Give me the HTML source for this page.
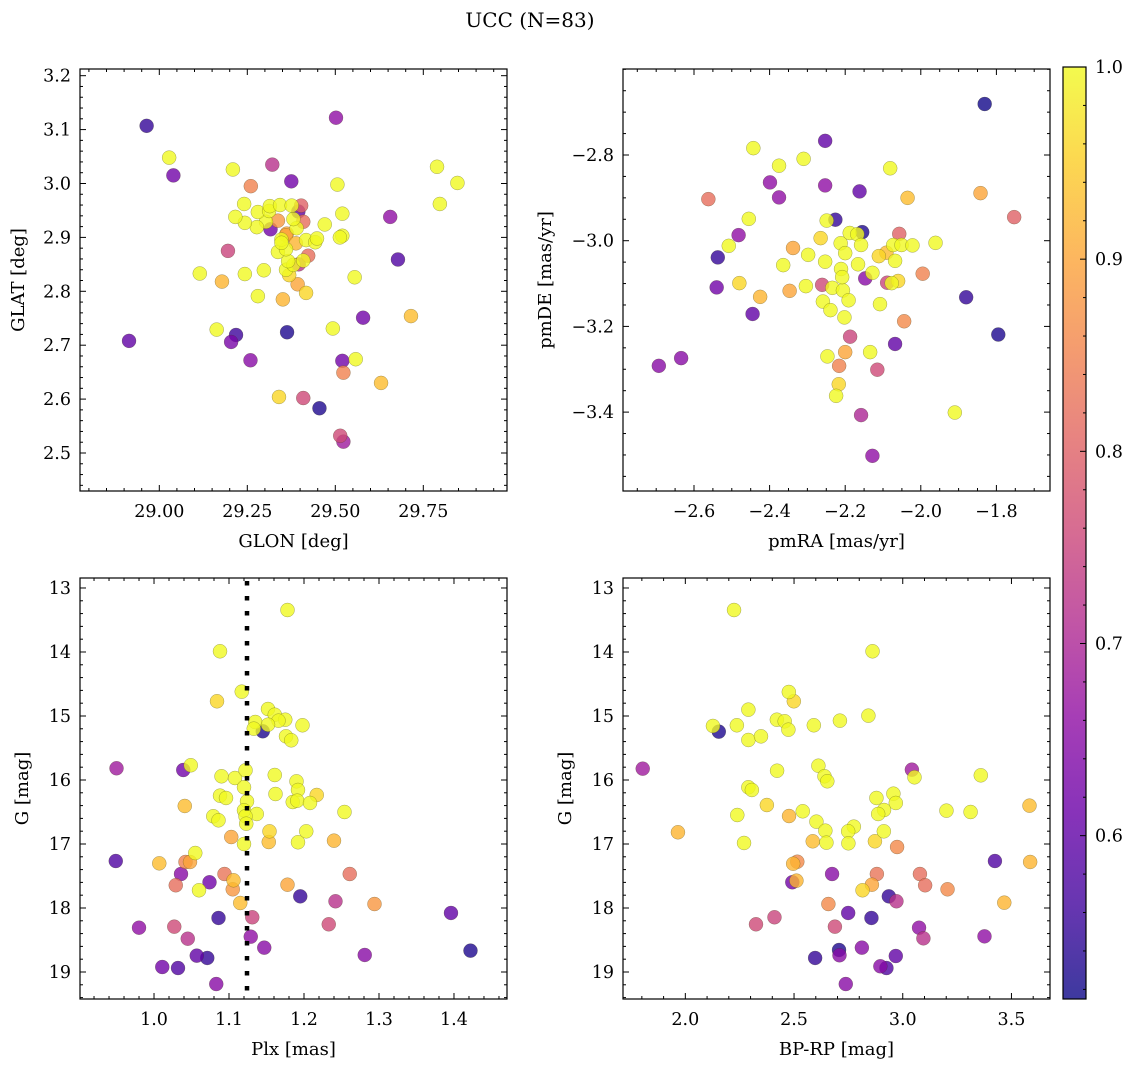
<!DOCTYPE html>
<html><head><meta charset="utf-8"><style>
html,body{margin:0;padding:0;background:#fff;}
svg{display:block;font-family:"DejaVu Serif","Liberation Serif",serif;}
</style></head><body>
<svg id="fig" width="1136" height="1067" viewBox="0 0 1136 1067" xmlns="http://www.w3.org/2000/svg">
<text x="530" y="27" font-size="20" text-anchor="middle">UCC (N=83)</text>
</svg>
<script>
// ---- Panel 1: GLON vs GLAT ----
const glon1=[28.964,29.028,29.040,28.914,29.209,29.321,29.260,29.375,29.502,29.506,29.789,29.847,29.797,29.656,29.520,29.520,29.513,29.470,29.678,29.555,29.715,29.579,29.493,29.520,29.558,29.523,29.630,29.455,29.409,29.340,29.514,29.523,29.363,29.218,29.204,29.163,29.259,29.195,29.115,29.178,29.243,29.297,29.280,29.351,29.417,29.393,29.369,29.360,29.381,29.409,29.423,29.366,29.337,29.360,29.388,29.347,29.417,29.443,29.448,29.362,29.337,29.390,29.381,29.409,29.316,29.303,29.277,29.243,29.216,29.241,29.280,29.312,29.314,29.343,29.376,29.403,29.395,29.360,29.347,29.396];
const glat1=[3.107,3.048,3.015,2.708,3.026,3.035,2.995,3.004,3.122,2.998,3.031,3.001,2.962,2.938,2.944,2.903,2.900,2.924,2.859,2.826,2.754,2.751,2.731,2.671,2.674,2.649,2.630,2.583,2.602,2.604,2.532,2.521,2.724,2.719,2.706,2.729,2.672,2.875,2.833,2.818,2.832,2.839,2.791,2.785,2.797,2.813,2.830,2.840,2.849,2.857,2.866,2.856,2.873,2.878,2.889,2.896,2.895,2.891,2.898,2.907,2.931,2.917,2.934,2.929,2.915,2.929,2.919,2.927,2.938,2.962,2.947,2.949,2.958,2.960,2.959,2.959,2.948,2.904,2.890,2.850];
const prob1=[.55,1,.62,.60,1,.72,.85,.62,.66,1,1,1,1,.66,1,1,1,1,.58,1,.93,.62,1,.62,1,.85,.93,.53,.76,.96,.76,.68,.53,.56,.63,1,.65,.75,1,.92,1,1,1,.92,.96,.90,.96,1,1,1,.82,1,1,1,.92,1,1,1,1,.90,.88,1,1,.82,.62,1,1,1,1,1,1,1,1,1,1,.80,.60,.90,1,.72];
// ---- Panel 2: pmRA vs pmDE ----
const pmra2=[-1.831,-2.253,-2.443,-2.310,-2.375,-2.399,-2.375,-2.253,-2.162,-2.081,-2.035,-1.842,-1.753,-2.562,-2.455,-2.482,-2.508,-2.537,-2.540,-2.480,-2.425,-2.445,-2.693,-2.634,-2.338,-2.364,-2.298,-2.347,-2.304,-2.265,-2.249,-2.226,-2.253,-2.261,-2.259,-2.239,-2.202,-2.234,-2.206,-2.191,-2.211,-2.208,-2.212,-2.200,-2.188,-2.168,-2.155,-2.158,-2.166,-2.147,-2.128,-2.111,-2.091,-2.068,-2.057,-2.073,-2.051,-2.022,-1.961,-1.995,-2.089,-2.060,-2.077,-2.108,-2.044,-1.880,-1.795,-2.068,-2.187,-2.134,-2.200,-2.247,-2.216,-2.115,-2.217,-2.224,-2.158,-2.128,-1.910];
const pmde2=[-2.681,-2.767,-2.784,-2.809,-2.825,-2.864,-2.899,-2.871,-2.885,-2.831,-2.900,-2.889,-2.945,-2.903,-2.949,-2.987,-3.012,-3.039,-3.109,-3.099,-3.131,-3.171,-3.292,-3.274,-3.017,-3.057,-3.033,-3.117,-3.106,-2.994,-2.953,-2.951,-3.049,-3.103,-3.142,-3.162,-3.179,-3.110,-3.116,-3.139,-3.066,-3.085,-3.006,-3.029,-2.982,-2.985,-2.980,-3.010,-3.055,-3.088,-3.075,-3.036,-3.028,-3.047,-2.984,-3.010,-3.010,-3.011,-3.005,-3.077,-3.098,-3.094,-3.099,-3.148,-3.188,-3.132,-3.219,-3.241,-3.224,-3.260,-3.260,-3.270,-3.292,-3.301,-3.335,-3.362,-3.407,-3.502,-3.401];
const prob2=[.52,.60,1,1,1,.66,.66,.66,.60,1,.93,.90,.80,.82,1,.66,1,.55,.62,.96,.92,.60,.65,.65,.90,1,1,.90,1,.96,1,.55,1,.76,1,1,1,1,1,1,1,1,1,1,1,1,.53,1,1,.65,1,.96,.93,1,.80,1,1,1,1,.85,.75,.96,1,1,.86,.55,.53,.60,.75,1,.90,1,.85,.76,.96,1,.70,.66,1];
// ---- Panel 3: Plx vs G ----
const plx3=[1.178,1.088,1.117,1.084,1.152,1.161,1.175,1.166,1.198,1.135,1.133,1.152,1.145,1.176,1.183,0.950,1.039,1.049,1.090,1.108,1.122,1.120,1.161,1.190,1.192,1.088,1.096,1.124,1.162,1.185,1.191,1.208,1.217,1.041,1.079,1.086,1.120,1.137,1.122,1.123,1.254,1.103,1.154,1.153,1.120,1.203,1.192,1.240,0.949,1.007,1.042,1.048,1.055,1.036,1.029,1.060,1.074,1.094,1.106,1.105,1.115,1.178,1.195,1.261,1.242,1.294,1.396,1.131,1.086,0.980,1.027,1.045,1.129,1.233,1.147,1.281,1.422,1.057,1.071,1.011,1.032,1.083];
const g3=[13.344,13.989,14.620,14.770,14.891,14.980,15.058,15.073,15.145,15.094,15.198,15.136,15.239,15.318,15.380,15.817,15.844,15.770,15.942,15.969,15.849,16.114,15.922,16.021,16.156,16.245,16.281,16.333,16.219,16.344,16.323,16.359,16.234,16.406,16.567,16.630,16.474,16.531,16.567,16.683,16.500,16.891,16.802,16.969,17.000,16.802,16.973,16.948,17.266,17.302,17.281,17.281,17.141,17.469,17.645,17.723,17.598,17.469,17.567,17.708,17.922,17.636,17.818,17.469,17.895,17.938,18.078,18.145,18.156,18.308,18.292,18.480,18.448,18.255,18.620,18.734,18.667,18.745,18.781,18.922,18.938,19.188];
const prob3=[1,1,1,.96,1,1,1,1,1,1,1,1,.53,1,1,.68,.62,1,1,1,1,1,1,1,1,1,1,1,1,1,1,1,.96,.93,1,1,1,1,1,1,1,.90,.96,.93,1,1,1,.92,.58,.93,.85,.90,1,.65,.82,1,.62,.83,.93,.88,.93,.90,.55,.82,.72,.88,.60,.75,.55,.66,.76,.72,.66,.76,.65,.65,.53,.60,.55,.62,.58,.65];
const plxLine=1.124;
// ---- Panel 4: BP-RP vs G ----
const bprp4=[2.224,2.861,2.476,2.499,2.290,2.842,2.421,2.457,2.711,2.237,2.591,2.127,2.154,2.474,2.290,2.348,1.804,3.042,3.054,2.422,2.612,2.640,2.653,3.359,2.290,2.306,2.375,3.583,2.540,2.477,2.603,2.644,2.775,2.879,2.957,2.968,2.914,2.887,3.201,3.312,2.239,1.966,2.270,2.586,2.649,2.749,2.750,2.872,2.913,2.974,3.424,3.586,2.496,2.515,2.675,2.881,3.079,3.103,3.206,3.467,2.492,2.511,2.815,2.858,2.658,2.936,2.971,2.749,2.856,2.325,2.410,2.688,3.075,3.095,3.376,2.597,2.707,2.709,2.812,2.968,2.897,2.925,2.738];
const g4=[13.344,13.989,14.625,14.770,14.901,14.995,15.058,15.083,15.073,15.145,15.145,15.156,15.245,15.214,15.375,15.318,15.823,15.839,15.958,15.855,15.777,15.942,16.020,15.927,16.114,16.156,16.391,16.401,16.489,16.563,16.651,16.792,16.729,16.281,16.214,16.359,16.469,16.531,16.479,16.500,16.547,16.817,16.984,16.958,16.979,16.802,16.989,16.958,16.802,17.047,17.266,17.281,17.308,17.277,17.469,17.469,17.469,17.645,17.708,17.917,17.598,17.573,17.723,17.636,17.938,17.818,17.895,18.078,18.156,18.255,18.145,18.292,18.308,18.474,18.443,18.781,18.656,18.739,18.620,18.750,18.911,18.938,19.188];
const prob4=[1,1,1,.96,1,1,1,1,1,1,1,1,.53,1,1,1,.68,.68,1,1,1,1,1,1,1,1,.96,.93,1,.92,1,1,1,1,1,1,1,1,1,1,1,.92,1,.93,1,1,1,.96,1,.86,.58,.92,.92,.86,.65,.83,.82,.82,.86,.92,.62,.92,.96,.90,.86,.55,.72,.60,.55,.76,.75,.76,.66,.72,.66,.55,.53,.65,.65,.60,.65,.58,.65];
// ---- Colorbar ----
const cbMin=0.515, cbMax=1.0;
const cbTicks=[0.6,0.7,0.8,0.9,1.0];

const NS='http://www.w3.org/2000/svg';
const svg=document.getElementById('fig');
const plasma=[[13,8,135],[65,4,157],[106,0,168],[143,13,164],[177,42,144],[204,71,120],[225,100,98],[242,132,75],[252,166,54],[252,206,37],[240,249,33]];
function cmap(p){
  let t=(p-cbMin)/(cbMax-cbMin); t=Math.max(0,Math.min(1,t));
  const f=t*10, i=Math.min(9,Math.floor(f)), r=f-i;
  const a=plasma[i], b=plasma[i+1];
  return 'rgb('+[0,1,2].map(k=>Math.round(a[k]+(b[k]-a[k])*r)).join(',')+')';
}
function el(tag,attrs,parent){const e=document.createElementNS(NS,tag);for(const k in attrs)e.setAttribute(k,attrs[k]);(parent||svg).appendChild(e);return e;}
function fmt(v,d){const s=Math.abs(v).toFixed(d);return (v<-1e-9?'\u2212':'')+s;}

function panel(name,box,xr,yr,yInv,xs,ys,ps,xMaj,xDec,xMinStep,yMaj,yDec,yMinStep,xLabel,yLabel,xlabX,ylabX){
  const g=el('g',{});
  
  
  const sx=v=>box.l+(v-xr[0])/(xr[1]-xr[0])*(box.r-box.l);
  const sy=v=>yInv? box.t+(v-yr[0])/(yr[1]-yr[0])*(box.b-box.t) : box.b-(v-yr[0])/(yr[1]-yr[0])*(box.b-box.t);
  const clip=el('clipPath',{id:name+'-clip'},g);
  el('rect',{x:box.l,y:box.t,width:box.r-box.l,height:box.b-box.t},clip);
  const pts=el('g',{'clip-path':'url(#'+name+'-clip)'},g);
  
  
  const idx=ps.map((p,i)=>i).sort((a,b)=>ps[a]-ps[b]);
  idx.forEach(i=>{
    const c=el('circle',{cx:sx(xs[i]),cy:sy(ys[i]),r:7,fill:cmap(ps[i]),'fill-opacity':0.8,stroke:'rgba(60,60,20,0.45)','stroke-width':0.5},pts);
    
    
  });
  if(name==='plx-g-panel'){
    const ln=el('line',{x1:sx(plxLine),x2:sx(plxLine),y1:box.t,y2:box.b,stroke:'#000','stroke-width':4.5,'stroke-dasharray':'4.5,10.5','stroke-dashoffset':-3},g);
    
    
  }
  const fr=el('rect',{x:box.l,y:box.t,width:box.r-box.l,height:box.b-box.t,fill:'none',stroke:'#000','stroke-width':1.2},g);
  
  
  const tk=el('g',{stroke:'#000','stroke-width':1},g);
  
  
  const isMaj=(v,arr)=>arr.some(m=>Math.abs(m-v)<1e-6);
  const lo=Math.min(xr[0],xr[1]), hi=Math.max(xr[0],xr[1]);
  for(let v=Math.ceil(lo/xMinStep-1e-9)*xMinStep; v<=hi; v+=xMinStep){
    const L=isMaj(v,xMaj)?6:3, x=sx(v);
    el('line',{x1:x,x2:x,y1:box.b,y2:box.b-L},tk); el('line',{x1:x,x2:x,y1:box.t,y2:box.t+L},tk);
  }
  const ylo=Math.min(yr[0],yr[1]), yhi=Math.max(yr[0],yr[1]);
  for(let v=Math.ceil(ylo/yMinStep-1e-9)*yMinStep; v<=yhi; v+=yMinStep){
    const L=isMaj(v,yMaj)?6:3, y=sy(v);
    el('line',{y1:y,y2:y,x1:box.l,x2:box.l+L},tk); el('line',{y1:y,y2:y,x1:box.r,x2:box.r-L},tk);
  }
  xMaj.forEach(v=>{
    const t=el('text',{x:sx(v),y:box.b+26,'font-size':17.5,'text-anchor':'middle'},g);
    t.textContent=fmt(v,xDec);
    
    
  });
  yMaj.forEach(v=>{
    const t=el('text',{x:box.l-9,y:sy(v)+6,'font-size':17.5,'text-anchor':'end'},g);
    t.textContent=fmt(v,yDec);
    
    
  });
  const xl=el('text',{x:(box.l+box.r)/2,y:box.b+56,'font-size':18,'text-anchor':'middle'},g);
  xl.textContent=xLabel;
  
  
  const yc=(box.t+box.b)/2;
  const yl=el('text',{x:ylabX,y:yc,'font-size':18,'text-anchor':'middle',transform:'rotate(-90 '+ylabX+' '+yc+')'},g);
  yl.textContent=yLabel;
  
  
}

panel('glon-glat-panel',{l:80,t:69,r:507,b:491},[28.7747,29.9878],[2.4295,3.2124],false,glon1,glat1,prob1,
  [29.00,29.25,29.50,29.75],2,0.05,[2.5,2.6,2.7,2.8,2.9,3.0,3.1,3.2],1,0.02,'GLON [deg]','GLAT [deg]',0,24);
panel('pm-panel',{l:623,t:69,r:1050,b:491},[-2.7878,-1.6582],[-3.5841,-2.5993],false,pmra2,pmde2,prob2,
  [-2.6,-2.4,-2.2,-2.0,-1.8],1,0.05,[-3.4,-3.2,-3.0,-2.8],1,0.05,'pmRA [mas/yr]','pmDE [mas/yr]',0,551);
panel('plx-g-panel',{l:80,t:578,r:507,b:999},[0.9013,1.4707],[12.844,19.422],true,plx3,g3,prob3,
  [1.0,1.1,1.2,1.3,1.4],1,0.02,[13,14,15,16,17,18,19],0,0.2,'Plx [mas]','G [mag]',0,28);
panel('cmd-panel',{l:623,t:578,r:1050,b:999},[1.7133,3.6773],[12.844,19.422],true,bprp4,g4,prob4,
  [2.0,2.5,3.0,3.5],1,0.1,[13,14,15,16,17,18,19],0,0.2,'BP-RP [mag]','G [mag]',0,571);

// colorbar
const cb={l:1063,r:1086,t:67,b:999};
const cbg=el('g',{});


const defs=el('defs',{},cbg);
const lg=el('linearGradient',{id:'cbgrad',x1:0,y1:1,x2:0,y2:0},defs);
for(let i=0;i<=20;i++){const p=cbMin+(cbMax-cbMin)*i/20;el('stop',{offset:i/20,'stop-color':cmap(p)},lg);}
el('rect',{x:cb.l,y:cb.t,width:cb.r-cb.l,height:cb.b-cb.t,fill:'url(#cbgrad)','fill-opacity':0.8},cbg);
el('rect',{x:cb.l,y:cb.t,width:cb.r-cb.l,height:cb.b-cb.t,fill:'none',stroke:'#000','stroke-width':1.2},cbg);
const cy=v=>cb.b-(v-cbMin)/(cbMax-cbMin)*(cb.b-cb.t);
for(let v=0.52; v<=1.0001; v+=0.02){
  const maj=cbTicks.some(m=>Math.abs(m-v)<1e-6);
  el('line',{x1:cb.r,x2:cb.r-(maj?6:3),y1:cy(v),y2:cy(v),stroke:'#000','stroke-width':1},cbg);
}
cbTicks.forEach(v=>{
  const t=el('text',{x:cb.r+9,y:cy(v)+6,'font-size':17.5},cbg);
  t.textContent=v.toFixed(1);
  
  
});
</script>
</body></html>
